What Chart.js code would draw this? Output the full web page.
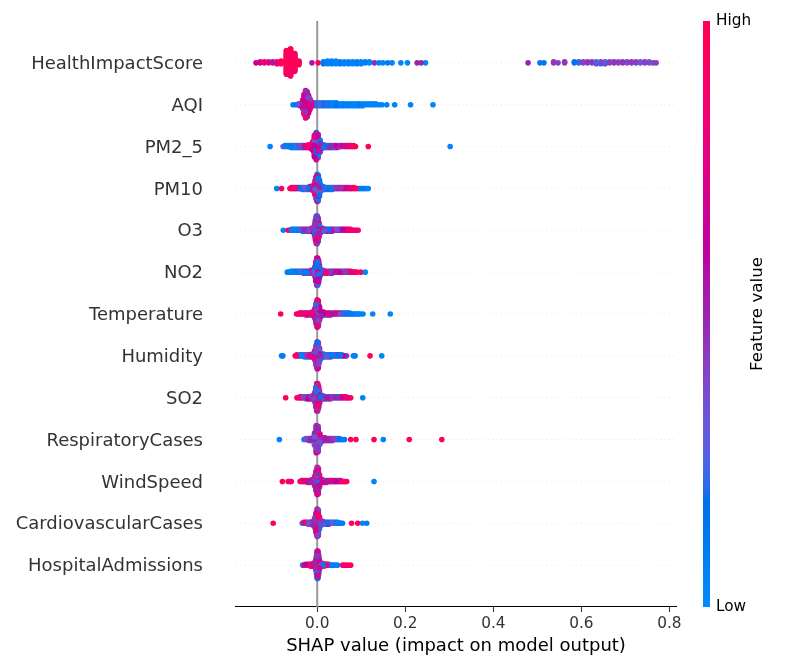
<!DOCTYPE html>
<html>
<head>
<meta charset="utf-8">
<title>SHAP summary</title>
<script src="https://cdn.jsdelivr.net/npm/chart.js@4.4.1/dist/chart.umd.min.js"></script>
<style>
  html, body { margin: 0; padding: 0; background: #ffffff; }
  canvas { display: block; }
</style>
</head>
<body>
<canvas id="shap-summary" width="800" height="670"></canvas>
<script>
// feature order, top to bottom
const features = [
  "HealthImpactScore", "AQI", "PM2_5", "PM10", "O3", "NO2", "Temperature",
  "Humidity", "SO2", "RespiratoryCases", "WindSpeed", "CardiovascularCases", "HospitalAdmissions"
];
const xTicks = [0.0, 0.2, 0.4, 0.6, 0.8];
const colorBarTicks = ["Low", "High"];

// each entry: [shap value, feature value (0 low .. 1 high), number of samples]
const healthImpactScore = [
  [-0.139, 0.65, 1], [-0.1295, 0.7, 2], [-0.12, 0.85, 2], [-0.1105, 0.8, 2],
  [-0.101, 0.55, 2], [-0.0915, 0.9, 3], [-0.082, 0.95, 4],
  [-0.07, 0.97, 20], [-0.07, 0.85, 6], [-0.0605, 0.98, 22], [-0.0605, 0.9, 8],
  [-0.051, 0.97, 14], [-0.051, 0.88, 6], [-0.0415, 0.95, 5],
  [-0.012, 0.55, 1], [0.002, 0.95, 1],
  [0.014, 0.1, 3], [0.0235, 0.05, 4], [0.033, 0.08, 4], [0.0425, 0.05, 4],
  [0.052, 0.12, 3], [0.0615, 0.05, 3], [0.071, 0.08, 3], [0.0805, 0.05, 3],
  [0.09, 0.1, 3], [0.0995, 0.05, 3], [0.109, 0.08, 2], [0.1185, 0.05, 2],
  [0.13, 0.5, 1], [0.14, 0.08, 1], [0.149, 0.05, 1], [0.16, 0.1, 1], [0.17, 0.05, 1],
  [0.19, 0.05, 1], [0.205, 0.05, 1], [0.227, 0.5, 1], [0.236, 0.5, 1], [0.246, 0.05, 1],
  [0.479, 0.5, 1], [0.506, 0.12, 1], [0.515, 0.15, 1],
  [0.537, 0.45, 2], [0.547, 0.42, 1], [0.562, 0.45, 2],
  [0.584, 0.15, 2], [0.594, 0.2, 1], [0.594, 0.45, 1],
  [0.604, 0.42, 2], [0.614, 0.45, 2], [0.624, 0.35, 1], [0.624, 0.45, 1],
  [0.634, 0.25, 1], [0.634, 0.42, 2], [0.644, 0.2, 2], [0.644, 0.4, 1],
  [0.654, 0.25, 1], [0.654, 0.45, 2], [0.664, 0.42, 2], [0.674, 0.45, 2],
  [0.684, 0.42, 1], [0.684, 0.25, 1], [0.694, 0.45, 2], [0.704, 0.4, 2],
  [0.714, 0.45, 2], [0.724, 0.2, 1], [0.724, 0.42, 1], [0.734, 0.3, 2],
  [0.744, 0.42, 2], [0.754, 0.35, 2], [0.763, 0.4, 1], [0.77, 0.42, 1]
];
const aqi = [
  [-0.055, 0.05, 1], [-0.0475, 0.15, 1], [-0.0425, 0.35, 2], [-0.038, 0.55, 3],
  [-0.033, 0.7, 5], [-0.033, 0.5, 3], [-0.033, 0.9, 2],
  [-0.0297, 0.7, 10], [-0.0297, 0.45, 6], [-0.0297, 0.92, 6],
  [-0.0264, 0.65, 14], [-0.0264, 0.45, 8], [-0.0264, 0.9, 8],
  [-0.0231, 0.7, 13], [-0.0231, 0.5, 8], [-0.0231, 0.92, 7],
  [-0.0198, 0.65, 10], [-0.0198, 0.4, 5], [-0.0198, 0.9, 5],
  [-0.0165, 0.7, 6], [-0.0165, 0.45, 3], [-0.0165, 0.92, 3],
  [-0.0132, 0.75, 3], [-0.0132, 0.92, 2], [-0.0132, 0.4, 1],
  [-0.0095, 0.3, 4], [-0.002, 0.2, 4], [0.0055, 0.25, 4], [0.013, 0.15, 4], [0.0205, 0.2, 4],
  [0.028, 0.1, 4], [0.0355, 0.05, 4], [0.043, 0.15, 4], [0.0505, 0.05, 3], [0.058, 0.1, 3],
  [0.0655, 0.05, 3], [0.073, 0.1, 3], [0.0805, 0.05, 3], [0.088, 0.05, 3], [0.0955, 0.1, 3],
  [0.103, 0.05, 3], [0.1105, 0.05, 2], [0.118, 0.05, 2], [0.1255, 0.05, 2], [0.133, 0.05, 2],
  [0.14, 0.05, 1], [0.147, 0.05, 1], [0.158, 0.05, 1], [0.176, 0.05, 1], [0.212, 0.05, 1],
  [0.263, 0.05, 1]
];
const pm25 = [
  [-0.107, 0.05, 1],
  [-0.0775, 0.35, 1], [-0.073, 0.1, 2], [-0.0685, 0.05, 2], [-0.064, 0.2, 2], [-0.0595, 0.1, 3],
  [-0.055, 0.3, 3], [-0.0505, 0.05, 3], [-0.046, 0.15, 3], [-0.0415, 0.4, 3], [-0.037, 0.1, 3],
  [-0.0325, 0.6, 3], [-0.028, 0.8, 3], [-0.0235, 0.9, 3], [-0.019, 0.75, 4], [-0.0145, 0.85, 5],
  [-0.0105, 0.9, 6], [-0.0105, 0.65, 4],
  [-0.0063, 0.85, 10], [-0.0063, 0.6, 8], [-0.0063, 0.3, 6],
  [-0.0021, 0.75, 10], [-0.0021, 0.5, 8], [-0.0021, 0.15, 12],
  [0.0021, 0.1, 12], [0.0021, 0.4, 8], [0.0021, 0.7, 6],
  [0.0063, 0.1, 8], [0.0063, 0.5, 6],
  [0.0105, 0.2, 5], [0.015, 0.1, 4], [0.0195, 0.45, 3], [0.024, 0.15, 3], [0.0285, 0.5, 3],
  [0.033, 0.2, 3], [0.0375, 0.45, 3], [0.042, 0.65, 3], [0.0465, 0.3, 3], [0.051, 0.5, 2],
  [0.0555, 0.7, 2], [0.06, 0.4, 2], [0.0645, 0.55, 2], [0.069, 0.8, 2], [0.0735, 0.9, 2],
  [0.078, 0.95, 2], [0.0825, 0.9, 2], [0.087, 0.95, 1], [0.116, 0.95, 1], [0.302, 0.05, 1]
];
const pm10 = [
  [-0.092, 0.05, 1], [-0.081, 0.95, 1],
  [-0.062, 0.9, 1], [-0.0585, 0.95, 2], [-0.055, 0.85, 2], [-0.0515, 0.9, 2],
  [-0.048, 0.6, 2], [-0.0445, 0.5, 2], [-0.041, 0.65, 2], [-0.0375, 0.15, 2],
  [-0.034, 0.1, 3], [-0.0305, 0.3, 3], [-0.027, 0.05, 3], [-0.0235, 0.85, 3],
  [-0.02, 0.15, 3], [-0.0165, 0.6, 4], [-0.013, 0.2, 4], [-0.01, 0.75, 5],
  [-0.0075, 0.85, 5], [-0.0075, 0.6, 3],
  [-0.005, 0.9, 8], [-0.005, 0.65, 5], [-0.005, 0.3, 3],
  [-0.0025, 0.8, 10], [-0.0025, 0.55, 8], [-0.0025, 0.2, 6],
  [0, 0.75, 10], [0, 0.45, 8], [0, 0.15, 12],
  [0.0025, 0.7, 9], [0.0025, 0.35, 9], [0.0025, 0.1, 10],
  [0.005, 0.5, 6], [0.005, 0.15, 8], [0.005, 0.85, 4],
  [0.0075, 0.3, 4], [0.0075, 0.1, 4],
  [0.01, 0.3, 5], [0.0135, 0.1, 4], [0.017, 0.2, 3], [0.0205, 0.05, 3], [0.024, 0.15, 3],
  [0.0275, 0.1, 3], [0.031, 0.2, 3], [0.0345, 0.05, 3], [0.038, 0.55, 2], [0.0415, 0.45, 2],
  [0.045, 0.6, 2], [0.0485, 0.5, 2], [0.052, 0.7, 2], [0.0555, 0.45, 2], [0.059, 0.8, 2],
  [0.0625, 0.6, 2], [0.066, 0.75, 2], [0.0695, 0.5, 2], [0.073, 0.85, 2], [0.0765, 0.6, 1],
  [0.08, 0.9, 2], [0.0835, 0.95, 2], [0.087, 0.9, 1], [0.0905, 0.95, 1], [0.094, 0.85, 1],
  [0.0975, 0.1, 1], [0.101, 0.05, 1], [0.1045, 0.1, 1], [0.108, 0.05, 1], [0.112, 0.05, 1],
  [0.116, 0.05, 1]
];
const o3 = [
  [-0.077, 0.05, 1], [-0.066, 0.95, 1], [-0.062, 0.1, 1], [-0.058, 0.05, 2], [-0.0545, 0.15, 2],
  [-0.051, 0.05, 2], [-0.0475, 0.25, 2], [-0.044, 0.1, 2], [-0.0405, 0.05, 2], [-0.037, 0.35, 2],
  [-0.0335, 0.1, 3], [-0.03, 0.5, 3], [-0.0265, 0.2, 3], [-0.023, 0.8, 3], [-0.0195, 0.4, 3],
  [-0.016, 0.9, 3], [-0.0125, 0.6, 4], [-0.009, 0.45, 5],
  [-0.006, 0.45, 5], [-0.006, 0.7, 4], [-0.006, 0.15, 3],
  [-0.004, 0.45, 9], [-0.004, 0.7, 8], [-0.004, 0.15, 5],
  [-0.002, 0.5, 12], [-0.002, 0.75, 10], [-0.002, 0.15, 8],
  [0, 0.45, 12], [0, 0.7, 9], [0, 0.2, 9],
  [0.002, 0.5, 10], [0.002, 0.8, 8], [0.002, 0.15, 8],
  [0.004, 0.45, 7], [0.004, 0.7, 5], [0.004, 0.1, 4],
  [0.006, 0.5, 4], [0.006, 0.2, 4],
  [0.009, 0.4, 5], [0.0125, 0.5, 4], [0.016, 0.3, 3], [0.0195, 0.6, 3], [0.023, 0.45, 3],
  [0.0265, 0.15, 3], [0.03, 0.55, 3], [0.0335, 0.4, 3], [0.037, 0.7, 2], [0.0405, 0.5, 2],
  [0.044, 0.3, 2], [0.0475, 0.6, 2], [0.051, 0.45, 2], [0.0545, 0.75, 2], [0.058, 0.6, 2],
  [0.0615, 0.8, 2], [0.065, 0.7, 2], [0.0685, 0.9, 2], [0.072, 0.85, 2], [0.0755, 0.95, 2],
  [0.079, 0.9, 1], [0.0825, 0.95, 1], [0.086, 0.8, 1], [0.0895, 0.95, 1], [0.093, 0.9, 1]
];
const no2 = [
  [-0.068, 0.05, 1], [-0.064, 0.1, 1], [-0.06, 0.05, 2], [-0.0565, 0.15, 2], [-0.053, 0.05, 2],
  [-0.0495, 0.1, 2], [-0.046, 0.3, 2], [-0.0425, 0.95, 2], [-0.039, 0.2, 2], [-0.0355, 0.05, 2],
  [-0.032, 0.85, 3], [-0.0285, 0.1, 3], [-0.025, 0.6, 3], [-0.0215, 0.2, 3], [-0.018, 0.9, 3],
  [-0.0145, 0.35, 4], [-0.011, 0.7, 4], [-0.0075, 0.3, 5],
  [-0.005, 0.7, 5], [-0.005, 0.4, 4], [-0.005, 0.15, 3],
  [-0.003, 0.65, 9], [-0.003, 0.45, 8], [-0.003, 0.1, 5],
  [-0.001, 0.75, 12], [-0.001, 0.45, 10], [-0.001, 0.15, 8],
  [0.001, 0.7, 11], [0.001, 0.4, 10], [0.001, 0.2, 9],
  [0.003, 0.6, 10], [0.003, 0.9, 6], [0.003, 0.2, 8],
  [0.005, 0.5, 6], [0.005, 0.15, 5], [0.005, 0.8, 3],
  [0.007, 0.45, 4], [0.007, 0.15, 3],
  [0.0095, 0.45, 5], [0.013, 0.2, 4], [0.0165, 0.55, 3], [0.02, 0.9, 3], [0.0235, 0.3, 3],
  [0.027, 0.5, 3], [0.0305, 0.45, 3], [0.034, 0.6, 3], [0.0375, 0.4, 2], [0.041, 0.55, 2],
  [0.0445, 0.2, 2], [0.048, 0.5, 2], [0.0515, 0.65, 2], [0.055, 0.3, 2], [0.0585, 0.55, 2],
  [0.062, 0.75, 2], [0.0655, 0.45, 2], [0.069, 0.85, 2], [0.0725, 0.6, 2], [0.076, 0.9, 2],
  [0.0795, 0.8, 1], [0.083, 0.95, 1], [0.0865, 0.85, 1], [0.09, 0.95, 1], [0.099, 0.95, 1],
  [0.109, 0.05, 1]
];
const temperature = [
  [-0.083, 0.95, 1], [-0.047, 0.95, 1], [-0.0435, 0.9, 1], [-0.04, 0.85, 2], [-0.0365, 0.6, 2],
  [-0.033, 0.9, 2], [-0.0295, 0.45, 2], [-0.026, 0.95, 3], [-0.0225, 0.7, 3], [-0.019, 0.3, 3],
  [-0.0155, 0.85, 3], [-0.012, 0.5, 4], [-0.0085, 0.75, 5],
  [-0.005, 0.75, 5], [-0.005, 0.5, 4], [-0.005, 0.9, 3],
  [-0.0025, 0.7, 9], [-0.0025, 0.45, 7], [-0.0025, 0.2, 6],
  [0, 0.8, 12], [0, 0.5, 10], [0, 0.15, 8],
  [0.0025, 0.65, 11], [0.0025, 0.4, 9], [0.0025, 0.9, 8],
  [0.005, 0.6, 7], [0.005, 0.3, 5], [0.005, 0.85, 4],
  [0.0075, 0.5, 4], [0.0075, 0.2, 3],
  [0.0105, 0.4, 5], [0.014, 0.6, 4], [0.0175, 0.2, 3], [0.021, 0.85, 3], [0.0245, 0.45, 3],
  [0.028, 0.7, 3], [0.0315, 0.3, 3], [0.035, 0.9, 2], [0.0385, 0.55, 2], [0.042, 0.8, 2],
  [0.0455, 0.4, 2], [0.049, 0.95, 2], [0.0525, 0.35, 2], [0.056, 0.5, 2], [0.0595, 0.2, 2],
  [0.063, 0.45, 2], [0.0665, 0.15, 2], [0.07, 0.3, 2], [0.0735, 0.1, 2], [0.077, 0.2, 1],
  [0.0805, 0.05, 1], [0.084, 0.1, 1], [0.0875, 0.05, 1], [0.091, 0.05, 1], [0.0945, 0.1, 1],
  [0.098, 0.05, 1], [0.104, 0.05, 1], [0.126, 0.05, 1], [0.166, 0.05, 1]
];
const humidity = [
  [-0.081, 0.05, 1], [-0.078, 0.1, 1], [-0.05, 0.95, 1], [-0.0465, 0.9, 2], [-0.043, 0.85, 1],
  [-0.0395, 0.1, 2], [-0.036, 0.05, 2], [-0.0325, 0.2, 2], [-0.029, 0.1, 3], [-0.0255, 0.4, 3],
  [-0.022, 0.15, 3], [-0.0185, 0.8, 3], [-0.015, 0.3, 3], [-0.0115, 0.6, 4], [-0.008, 0.25, 5],
  [-0.005, 0.65, 5], [-0.005, 0.3, 4], [-0.005, 0.85, 3],
  [-0.0025, 0.7, 8], [-0.0025, 0.4, 8], [-0.0025, 0.15, 6],
  [0, 0.75, 11], [0, 0.45, 10], [0, 0.15, 9],
  [0.0025, 0.7, 10], [0.0025, 0.4, 10], [0.0025, 0.1, 8],
  [0.005, 0.6, 7], [0.005, 0.3, 5], [0.005, 0.15, 4],
  [0.0075, 0.5, 4], [0.0075, 0.2, 3],
  [0.0105, 0.2, 5], [0.014, 0.45, 4], [0.0175, 0.1, 3], [0.021, 0.3, 3], [0.0245, 0.15, 3],
  [0.028, 0.5, 3], [0.0315, 0.1, 3], [0.035, 0.25, 2], [0.0385, 0.05, 2], [0.042, 0.4, 2],
  [0.0455, 0.15, 2], [0.049, 0.55, 2], [0.0525, 0.1, 2], [0.056, 0.3, 2], [0.0595, 0.6, 1],
  [0.063, 0.1, 1], [0.0665, 0.95, 1], [0.082, 0.05, 1], [0.086, 0.1, 1], [0.12, 0.95, 1],
  [0.1466, 0.05, 1]
];
const so2 = [
  [-0.0716, 0.95, 1], [-0.046, 0.95, 1], [-0.0425, 0.9, 1], [-0.039, 0.95, 2], [-0.0355, 0.7, 2],
  [-0.032, 0.4, 2], [-0.0285, 0.85, 2], [-0.025, 0.2, 3], [-0.0215, 0.6, 3], [-0.018, 0.9, 3],
  [-0.0145, 0.45, 3], [-0.011, 0.75, 4], [-0.0075, 0.35, 5],
  [-0.005, 0.75, 5], [-0.005, 0.45, 4], [-0.005, 0.15, 3],
  [-0.003, 0.7, 9], [-0.003, 0.45, 8], [-0.003, 0.2, 5],
  [-0.001, 0.8, 12], [-0.001, 0.5, 10], [-0.001, 0.15, 8],
  [0.001, 0.7, 11], [0.001, 0.45, 10], [0.001, 0.2, 9],
  [0.003, 0.65, 10], [0.003, 0.35, 8], [0.003, 0.9, 6],
  [0.005, 0.55, 6], [0.005, 0.2, 5], [0.005, 0.85, 3],
  [0.007, 0.45, 4], [0.007, 0.15, 3],
  [0.0095, 0.4, 5], [0.013, 0.15, 4], [0.0165, 0.5, 3], [0.02, 0.3, 3], [0.0235, 0.55, 3],
  [0.027, 0.2, 3], [0.0305, 0.45, 3], [0.034, 0.65, 2], [0.0375, 0.35, 2], [0.041, 0.5, 2],
  [0.0445, 0.15, 2], [0.048, 0.6, 2], [0.0515, 0.4, 2], [0.055, 0.7, 2], [0.0585, 0.85, 2],
  [0.062, 0.55, 2], [0.0655, 0.9, 2], [0.069, 0.8, 1], [0.0725, 0.95, 1], [0.076, 0.9, 1],
  [0.1034, 0.05, 1]
];
const respiratoryCases = [
  [-0.086, 0.05, 1], [-0.03, 0.1, 1], [-0.026, 0.35, 2], [-0.022, 0.15, 2], [-0.018, 0.5, 3],
  [-0.014, 0.2, 3], [-0.01, 0.45, 4],
  [-0.006, 0.5, 7], [-0.006, 0.3, 4], [-0.006, 0.7, 3],
  [-0.002, 0.5, 14], [-0.002, 0.4, 8], [-0.002, 0.7, 8],
  [0.002, 0.45, 13], [0.002, 0.55, 8], [0.002, 0.2, 7],
  [0.006, 0.5, 6], [0.006, 0.3, 4], [0.006, 0.75, 2],
  [0.01, 0.5, 5], [0.014, 0.45, 4], [0.018, 0.55, 4], [0.022, 0.4, 3], [0.026, 0.5, 3],
  [0.03, 0.45, 3], [0.034, 0.55, 3], [0.038, 0.4, 2], [0.042, 0.5, 2], [0.046, 0.3, 2],
  [0.05, 0.15, 2], [0.054, 0.2, 1], [0.058, 0.1, 1], [0.062, 0.15, 1], [0.076, 0.95, 1],
  [0.088, 0.95, 1], [0.129, 0.95, 1], [0.15, 0.05, 1], [0.209, 0.95, 1], [0.283, 0.95, 1]
];
const windSpeed = [
  [-0.079, 0.95, 1], [-0.066, 0.9, 1], [-0.0625, 0.95, 1], [-0.059, 0.85, 1], [-0.039, 0.95, 1],
  [-0.0355, 0.9, 2], [-0.032, 0.8, 2], [-0.0285, 0.95, 2], [-0.025, 0.7, 2], [-0.0215, 0.9, 3],
  [-0.018, 0.55, 3], [-0.0145, 0.5, 3], [-0.011, 0.6, 4], [-0.0075, 0.45, 5],
  [-0.005, 0.9, 5], [-0.005, 0.6, 4], [-0.005, 0.45, 3],
  [-0.0025, 0.85, 9], [-0.0025, 0.55, 8], [-0.0025, 0.2, 5],
  [0, 0.9, 11], [0, 0.6, 10], [0, 0.4, 9],
  [0.0025, 0.8, 10], [0.0025, 0.5, 10], [0.0025, 0.2, 8],
  [0.005, 0.7, 6], [0.005, 0.45, 5], [0.005, 0.95, 3],
  [0.0075, 0.5, 5], [0.011, 0.7, 4], [0.0145, 0.45, 3], [0.018, 0.8, 3], [0.0215, 0.55, 3],
  [0.025, 0.9, 2], [0.0285, 0.5, 2], [0.032, 0.75, 2], [0.0355, 0.45, 2], [0.039, 0.85, 2],
  [0.0425, 0.6, 2], [0.046, 0.5, 2], [0.0495, 0.9, 2], [0.053, 0.7, 2], [0.0565, 0.95, 1],
  [0.06, 0.6, 1], [0.0635, 0.85, 1], [0.067, 0.9, 1], [0.129, 0.05, 1]
];
const cardiovascularCases = [
  [-0.1, 0.95, 1], [-0.034, 0.05, 1], [-0.0305, 0.85, 2], [-0.027, 0.5, 2], [-0.0235, 0.9, 2],
  [-0.02, 0.35, 3], [-0.0165, 0.7, 3], [-0.013, 0.2, 3], [-0.0095, 0.5, 4], [-0.0095, 0.8, 1],
  [-0.005, 0.7, 5], [-0.005, 0.45, 4], [-0.005, 0.2, 3],
  [-0.0025, 0.75, 9], [-0.0025, 0.5, 8], [-0.0025, 0.15, 5],
  [0, 0.7, 11], [0, 0.45, 10], [0, 0.2, 9],
  [0.0025, 0.65, 10], [0.0025, 0.4, 10], [0.0025, 0.9, 8],
  [0.005, 0.5, 6], [0.005, 0.2, 5], [0.005, 0.8, 3],
  [0.0085, 0.45, 5], [0.012, 0.7, 4], [0.0155, 0.3, 3], [0.019, 0.55, 3], [0.0225, 0.15, 3],
  [0.026, 0.5, 3], [0.0295, 0.1, 2], [0.033, 0.3, 2], [0.0365, 0.05, 2], [0.04, 0.2, 2],
  [0.0435, 0.1, 2], [0.047, 0.05, 2], [0.0505, 0.15, 1], [0.054, 0.3, 1], [0.0575, 0.1, 1],
  [0.078, 0.95, 1], [0.092, 0.95, 1], [0.103, 0.05, 1], [0.1125, 0.1, 1]
];
const hospitalAdmissions = [
  [-0.033, 0.05, 1], [-0.0295, 0.9, 1], [-0.026, 0.6, 2], [-0.0225, 0.95, 2], [-0.019, 0.45, 2],
  [-0.0155, 0.85, 3], [-0.012, 0.55, 3], [-0.0085, 0.7, 4], [-0.005, 0.5, 6],
  [-0.003, 0.45, 5], [-0.003, 0.7, 4], [-0.003, 0.15, 3],
  [-0.0015, 0.45, 8], [-0.0015, 0.65, 7], [-0.0015, 0.2, 5],
  [0, 0.5, 12], [0, 0.75, 9], [0, 0.15, 9],
  [0.0015, 0.45, 12], [0.0015, 0.7, 9], [0.0015, 0.2, 9],
  [0.003, 0.5, 9], [0.003, 0.8, 7], [0.003, 0.15, 6],
  [0.0045, 0.45, 5], [0.0045, 0.2, 4], [0.0045, 0.75, 3],
  [0.006, 0.4, 4], [0.006, 0.15, 2],
  [0.0085, 0.4, 5], [0.011, 0.9, 4], [0.0135, 0.2, 3], [0.016, 0.85, 3], [0.0185, 0.15, 2],
  [0.021, 0.9, 2], [0.0235, 0.3, 2], [0.026, 0.95, 2], [0.0285, 0.1, 1], [0.033, 0.05, 1],
  [0.037, 0.1, 1], [0.042, 0.05, 1], [0.046, 0.05, 1], [0.058, 0.9, 1], [0.063, 0.95, 1],
  [0.069, 0.9, 1], [0.076, 0.95, 1]
];

const featureRows = [
  healthImpactScore, aqi, pm25, pm10, o3, no2, temperature,
  humidity, so2, respiratoryCases, windSpeed, cardiovascularCases, hospitalAdmissions
];

const NBINS = 100;
const ROW_HEIGHT = 0.4;

// shap's red_blue map: LCH blue -> (darker middle) -> red
function redBlue(t) {
  t = Math.min(1, Math.max(0, t));
  const l = t < 0.5 ? 54 - 28 * t : 40 + 28 * (t - 0.5);
  const c = 70 + 20 * t;
  const h = 4.6588 + t * (0.35470565 + 2 * Math.PI - 4.6588);
  const a = c * Math.cos(h), b = c * Math.sin(h);
  const fy = (l + 16) / 116, fx = fy + a / 500, fz = fy - b / 200;
  const finv = v => v > 6 / 29 ? v * v * v : 3 * (6 / 29) * (6 / 29) * (v - 4 / 29);
  const X = 0.95047 * finv(fx), Y = finv(fy), Z = 1.08883 * finv(fz);
  const lin = [
    3.2406 * X - 1.5372 * Y - 0.4986 * Z,
    -0.9689 * X + 1.8758 * Y + 0.0415 * Z,
    0.0557 * X - 0.2040 * Y + 1.0570 * Z
  ];
  const rgb = lin.map(v => {
    v = Math.min(1, Math.max(0, v));
    v = v <= 0.0031308 ? 12.92 * v : 1.055 * Math.pow(v, 1 / 2.4) - 0.055;
    return Math.round(v * 255);
  });
  return `rgb(${rgb.join(",")})`;
}

// beeswarm layout like shap: bin the x values, stack each bin up/down
function swarm(rows, rowIndex) {
  const xs = rows.map(r => r[0]);
  const lo = Math.min(...xs), hi = Math.max(...xs);
  const bins = {};
  rows.forEach(r => {
    const q = Math.round(NBINS * (r[0] - lo) / (hi - lo + 1e-8));
    (bins[q] = bins[q] || []).push(r);
  });
  let pts = [];
  Object.values(bins).forEach(group => {
    const items = [];
    group.forEach(r => {
      for (let k = 0; k < r[2]; k++) items.push({ x: r[0], fv: r[1], key: (k + 0.5) / r[2] });
    });
    items.sort((p, q) => p.key - q.key);
    items.forEach((p, layer) => {
      p.off = Math.ceil(layer / 2) * ((layer % 2) * 2 - 1);
      pts.push(p);
    });
  });
  const top = Math.max(...pts.map(p => p.off)) + 1;
  const k = 0.9 * ROW_HEIGHT / top;
  // mix the drawing order so colours overlap like a shuffled sample
  pts = pts.map((p, i) => ({ ...p, o: (i * 0.6180339887) % 1 })).sort((p, q) => p.o - q.o);
  return pts.map(p => ({ x: p.x, y: rowIndex - p.off * k, fv: p.fv }));
}

const datasets = featureRows.map((rows, i) => {
  const pts = swarm(rows, i);
  return {
    label: features[i],
    data: pts.map(p => ({ x: p.x, y: p.y })),
    pointBackgroundColor: pts.map(p => redBlue(p.fv)),
    pointBorderWidth: 0,
    pointRadius: 2.8,
    pointHoverRadius: 2.8,
    showLine: false
  };
});

// dotted row guides and the zero line, under the dots
const rowGuides = {
  id: "rowGuides",
  beforeDatasetsDraw(chart) {
    const { ctx, chartArea: area, scales: { x, y } } = chart;
    ctx.save();
    ctx.strokeStyle = "#cccccc";
    ctx.lineWidth = 0.7;
    ctx.setLineDash([0.7, 3.5]);
    features.forEach((f, i) => {
      const py = y.getPixelForValue(i);
      ctx.beginPath();
      ctx.moveTo(area.left, py);
      ctx.lineTo(area.right, py);
      ctx.stroke();
    });
    ctx.setLineDash([]);
    ctx.strokeStyle = "#999999";
    ctx.lineWidth = 2;
    const px = x.getPixelForValue(0);
    ctx.beginPath();
    ctx.moveTo(px, area.top);
    ctx.lineTo(px, area.bottom);
    ctx.stroke();
    ctx.restore();
  }
};

const colorBar = {
  id: "colorBar",
  afterDraw(chart) {
    const { ctx, chartArea: area } = chart;
    const left = area.right + 27, width = 7;
    const grad = ctx.createLinearGradient(0, area.bottom, 0, area.top);
    for (let s = 0; s <= 50; s++) grad.addColorStop(s / 50, redBlue(s / 50));
    ctx.save();
    ctx.fillStyle = grad;
    ctx.fillRect(left, area.top, width, area.bottom - area.top);
    ctx.fillStyle = "#000000";
    ctx.font = "15.3px 'DejaVu Sans'";
    ctx.textAlign = "left";
    ctx.textBaseline = "middle";
    ctx.fillText(colorBarTicks[1], left + width + 6, area.top);
    ctx.fillText(colorBarTicks[0], left + width + 6, area.bottom);
    ctx.translate(758, (area.top + area.bottom) / 2);
    ctx.rotate(-Math.PI / 2);
    ctx.textAlign = "center";
    ctx.font = "16.7px 'DejaVu Sans'";
    ctx.fillText("Feature value", 0, 0);
    ctx.restore();
  }
};

Chart.defaults.font.family = "'DejaVu Sans'";

const ctx = document.getElementById("shap-summary").getContext("2d");
new Chart(ctx, {
  type: "scatter",
  data: { datasets },
  options: {
    responsive: false,
    animation: false,
    events: [],
    layout: { autoPadding: false, padding: { top: 21, right: 124, bottom: 0, left: 0 } },
    plugins: { legend: { display: false }, tooltip: { enabled: false } },
    scales: {
      x: {
        type: "linear",
        min: -0.1845,
        max: 0.815,
        afterBuildTicks: scale => { scale.ticks = xTicks.map(v => ({ value: v })); },
        afterFit: scale => { scale.height = 63; },
        grid: { drawOnChartArea: false, drawTicks: true, tickLength: 5, tickColor: "#333333", tickWidth: 1.1 },
        border: { display: true, color: "#000000", width: 1.1 },
        ticks: {
          callback: v => Number(v).toFixed(1),
          font: { size: 15.3 },
          color: "#333333",
          padding: 3,
          maxRotation: 0
        },
        title: {
          display: true,
          text: "SHAP value (impact on model output)",
          font: { size: 18 },
          color: "#000000",
          padding: { top: 0, bottom: 13 }
        }
      },
      y: {
        type: "linear",
        min: -1,
        max: features.length,
        reverse: true,
        afterBuildTicks: scale => { scale.ticks = features.map((f, i) => ({ value: i })); },
        afterFit: scale => {
          scale.width = 236;
          scale.paddingTop = 0;
          scale.paddingBottom = 0;
        },
        grid: { display: false, drawTicks: false },
        border: { display: false },
        ticks: {
          callback: v => features[v],
          font: { size: 18 },
          color: "#333333",
          padding: 33,
          labelOffset: 1.5,
          autoSkip: false
        }
      }
    }
  },
  plugins: [rowGuides, colorBar]
});
</script>
</body>
</html>
